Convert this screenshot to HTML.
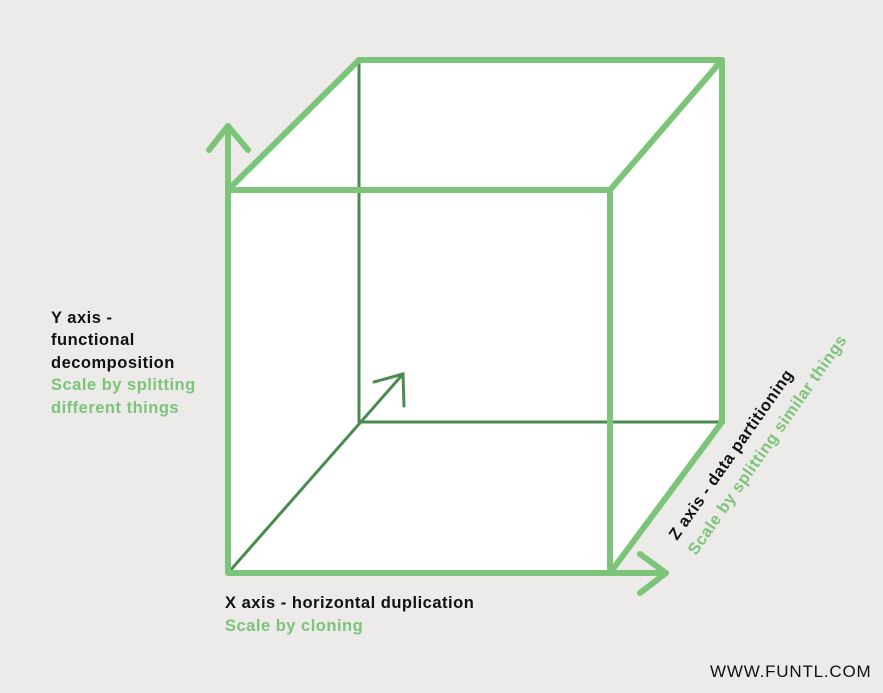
<!DOCTYPE html>
<html><head><meta charset="utf-8"><style>
html,body{margin:0;padding:0;background:#ecebe9;}
svg{display:block}
text{font-family:"Liberation Sans",sans-serif;font-size:16.5px;letter-spacing:0.5px}
.b{fill:#111;font-weight:bold}
.g{fill:#7cc47a;font-weight:bold}
</style></head><body>
<svg width="883" height="693" viewBox="0 0 883 693">
<rect width="883" height="693" fill="#ecebe9"/>
<polygon points="228,190 359,60 722,60 722,422 610,573 228,573" fill="#fff"/>
<g stroke="#4a8b4f" stroke-width="3" fill="none" stroke-linecap="round">
<line x1="359" y1="60" x2="359" y2="422"/>
<line x1="359" y1="422" x2="722" y2="422"/>
<line x1="228" y1="573" x2="403" y2="374"/>
<polyline points="374,382 403,374 404,406"/>
</g>
<g stroke="#7cc47a" stroke-width="6" fill="none" stroke-linecap="round" stroke-linejoin="round">
<rect x="228" y="190" width="382" height="383"/>
<line x1="228" y1="190" x2="359" y2="60"/>
<line x1="359" y1="60" x2="722" y2="60"/>
<line x1="722" y1="60" x2="722" y2="422"/>
<line x1="610" y1="190" x2="722" y2="60"/>
<line x1="722" y1="422" x2="610" y2="573"/>
<line x1="228" y1="190" x2="228" y2="126"/>
<polyline points="209,150 228,126 248,150"/>
<line x1="610" y1="573" x2="666" y2="573"/>
<polyline points="640,554 666,573 640,593"/>
</g>
<text class="b" x="51" y="323">Y axis -</text>
<text class="b" x="51" y="345">functional</text>
<text class="b" x="51" y="368">decomposition</text>
<text class="g" x="51" y="390">Scale by splitting</text>
<text class="g" x="51" y="413">different things</text>
<text class="b" x="225" y="608">X axis - horizontal duplication</text>
<text class="g" x="225" y="631">Scale by cloning</text>
<text class="b" transform="translate(677,541) rotate(-55)">Z axis - data partitioning</text>
<text class="g" transform="translate(696,556) rotate(-55)">Scale by splitting similar things</text>
<text x="710" y="677" fill="#111" style="font-size:17px;letter-spacing:0.8px">WWW.FUNTL.COM</text>
</svg>
</body></html>
